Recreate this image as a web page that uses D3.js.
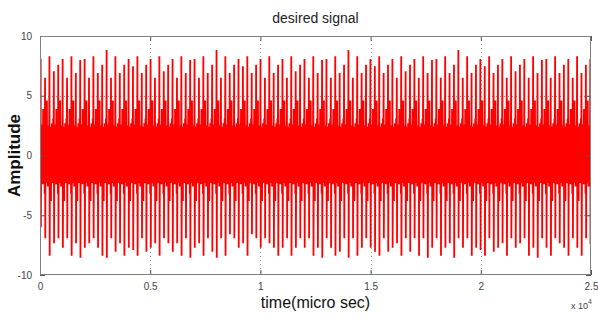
<!DOCTYPE html>
<html>
<head>
<meta charset="utf-8">
<script src="https://cdn.jsdelivr.net/npm/d3@7"></script>
<style>
html,body{margin:0;padding:0;background:#fff;}
svg{display:block;}
text{font-family:"Liberation Sans",Arial,sans-serif;}
</style>
</head>
<body>
<svg id="chart" width="598" height="318"></svg>
<script>
// ---- data ----
const title = "desired signal";
const xLabel = "time(micro sec)";
const yLabel = "Amplitude";
const xTicks = [0, 5000, 10000, 15000, 20000, 25000];
const xTickLabels = ["0", "0.5", "1", "1.5", "2", "2.5"];
const yTicks = [-10, -5, 0, 5, 10];
const yTickLabels = ["-10", "-5", "0", "5", "10"];
const firstSpikeTime = 30;     // micro sec
const spikePeriod = 199.5;     // micro sec between large spikes

// positive spike peaks (one per period)
const topPeaks = [
 8.07,6.5,8.3,7.05,7.6,8.07,6.5,8.3,6.9,8.0,8.07,6.5,8.3,6.9,7.6,8.83,6.5,8.3,6.9,7.6,8.07,7.46,8.3,6.9,7.6,8.07,6.5,8.3,7.05,7.6,8.07,6.5,8.3,6.9,8.0,8.07,6.5,8.3,6.9,7.6,8.83,6.5,
 8.3,6.9,7.6,8.07,7.46,8.3,6.9,7.6,8.07,6.5,8.3,6.9,7.6,8.07,6.5,8.3,7.05,7.6,8.07,6.5,8.3,6.9,8.0,8.07,6.5,8.3,6.9,7.6,8.83,6.5,8.3,6.9,7.6,8.07,7.46,8.3,6.9,7.6,8.07,6.5,8.3,7.05,
 7.6,8.07,6.5,8.3,6.9,8.0,8.07,6.5,8.3,6.9,7.6,8.83,6.5,8.3,6.9,7.6,8.07,7.46,8.3,6.9,7.6,8.07,6.5,8.3,7.05,7.6,8.07,6.5,8.3,6.9,8.0,8.07,6.5,8.3,6.9,7.6,8.07,6.5,8.3,6.9,7.6,8.07
];
// negative spike peaks (one per period)
const bottomPeaks = [
 -6.0,-6.93,-8.38,-7.35,-6.93,-7.71,-6.93,-8.38,-7.35,-8.55,-7.71,-7.35,-6.93,-7.71,-8.38,-8.55,-6.93,-8.05,-7.35,-8.38,-7.71,-7.9,-8.38,-6.93,-8.05,-7.71,-7.35,-8.38,-6.93,-7.35,-8.05,-7.35,-8.38,-6.93,-8.55,-7.71,-7.35,-8.38,-6.93,-8.05,-8.55,-6.93,
 -8.38,-6.6,-6.93,-7.71,-7.35,-8.38,-6.6,-6.93,-7.71,-6.93,-7.35,-7.71,-8.38,-7.71,-6.93,-8.38,-7.71,-6.93,-7.71,-6.93,-8.38,-7.71,-8.55,-6.93,-7.71,-8.38,-8.05,-6.93,-8.55,-6.93,-8.38,-7.71,-6.93,-7.71,-8.05,-8.38,-6.93,-8.05,-7.71,-7.35,-8.38,-6.93,
 -8.05,-6.93,-8.38,-6.93,-8.55,-7.71,-6.93,-8.38,-7.71,-7.35,-8.55,-6.93,-7.71,-6.93,-8.38,-7.71,-7.9,-8.38,-6.93,-8.05,-7.71,-7.35,-8.38,-6.93,-7.71,-7.35,-6.93,-8.38,-7.71,-8.55,-6.93,-7.71,-8.38,-6.93,-7.35,-7.71,-8.38,-6.93,-7.71,-8.38,-6.93,-7.4
];
// smaller oscillations between the large spikes (typical cycle shapes)
const innerShapes = [
 [2.2, -1.9, 2.6, -2.2, 1.9, -2.4, 3.9, -2.0, 2.3, -1.8, 2.1, -3.2],
 [2.0, -2.3, 2.4, -1.9, 4.6, -2.1, 2.0, -2.6, 2.2, -1.8, 2.5, -2.0],
 [2.4, -1.9, 2.1, -3.8, 2.2, -2.0, 2.7, -2.3, 1.9, -2.2, 3.1, -2.1]
];

// ---- build signal samples ----
const signal = [{t: 0, v: 1.0}];
topPeaks.forEach((tp, i) => {
  const t0 = firstSpikeTime + i * spikePeriod;
  signal.push({t: t0, v: tp});
  signal.push({t: t0 + 0.05 * spikePeriod, v: bottomPeaks[i]});
  const inner = innerShapes[i % innerShapes.length];
  inner.forEach((v, k) => {
    signal.push({t: t0 + (0.14 + k * 0.07) * spikePeriod, v: v});
  });
});

// ---- layout ----
const svg = d3.select("#chart");
const L = 40, R = 591, T = 36, B = 275;
const x = d3.scaleLinear().domain([0, 25000]).range([L, R]);
const y = d3.scaleLinear().domain([-10, 10]).range([B, T]);

svg.append("defs").append("clipPath").attr("id", "clip")
  .append("rect").attr("x", L).attr("y", T).attr("width", R - L).attr("height", B - T);

// grid
const grid = svg.append("g").attr("stroke", "#9a9a9a").attr("stroke-width", 1)
  .attr("stroke-dasharray", "1,3");
xTicks.slice(1, -1).forEach(v => {
  grid.append("line").attr("x1", Math.round(x(v)) + 0.5).attr("x2", Math.round(x(v)) + 0.5)
    .attr("y1", T).attr("y2", B);
});
yTicks.slice(1, -1).forEach(v => {
  grid.append("line").attr("y1", Math.round(y(v)) + 0.5).attr("y2", Math.round(y(v)) + 0.5)
    .attr("x1", L).attr("x2", R);
});

// signal
const line = d3.line().x(d => x(d.t)).y(d => y(d.v));
svg.append("path").datum(signal)
  .attr("clip-path", "url(#clip)")
  .attr("fill", "none").attr("stroke", "#ff0000").attr("stroke-width", 1.8)
  .attr("stroke-linejoin", "miter").attr("d", line);

// axes (inward ticks, box)
const tickColor = "#555";
const xb = d3.axisBottom(x).tickValues(xTicks).tickSize(-5).tickPadding(8)
  .tickFormat((d, i) => xTickLabels[i]);
const xt = d3.axisTop(x).tickValues(xTicks).tickSize(-5).tickFormat("");
const yl = d3.axisLeft(y).tickValues(yTicks).tickSize(-5).tickPadding(8)
  .tickFormat((d, i) => yTickLabels[i]);
const yr = d3.axisRight(y).tickValues(yTicks).tickSize(-5).tickFormat("");

function style(g) {
  g.select(".domain").remove();
  g.selectAll(".tick line").attr("stroke", tickColor);
  g.selectAll(".tick text").attr("fill", "#444").style("font-size", "10px")
    .style("font-family", "'Liberation Sans', Arial, sans-serif");
}
svg.append("g").attr("transform", `translate(0,${B})`).call(xb).call(style);
svg.append("g").attr("transform", `translate(0,${T})`).call(xt).call(style);
svg.append("g").attr("transform", `translate(${L},0)`).call(yl).call(style);
svg.append("g").attr("transform", `translate(${R},0)`).call(yr).call(style);

svg.append("rect").attr("x", L + 0.5).attr("y", T + 0.5)
  .attr("width", R - L - 1).attr("height", B - T - 1)
  .attr("fill", "none").attr("stroke", "#808080").attr("stroke-width", 1);

// exponent label
const ex = svg.append("text").attr("x", 571).attr("y", 309).attr("fill", "#444")
  .style("font-size", "9px");
ex.append("tspan").text("x 10");
ex.append("tspan").attr("dy", -5).style("font-size", "7px").text("4");

// title & labels
svg.append("text").attr("x", (L + R) / 2).attr("y", 23).attr("text-anchor", "middle")
  .attr("fill", "#222").style("font-size", "14px").text(title);
svg.append("text").attr("x", (L + R) / 2).attr("y", 308).attr("text-anchor", "middle")
  .attr("fill", "#111").style("font-size", "16px").text(xLabel);
svg.append("text").attr("transform", `translate(20,${(T + B) / 2}) rotate(-90)`)
  .attr("text-anchor", "middle").attr("fill", "#111")
  .style("font-size", "17px").style("font-weight", "bold").text(yLabel);
</script>
</body>
</html>
